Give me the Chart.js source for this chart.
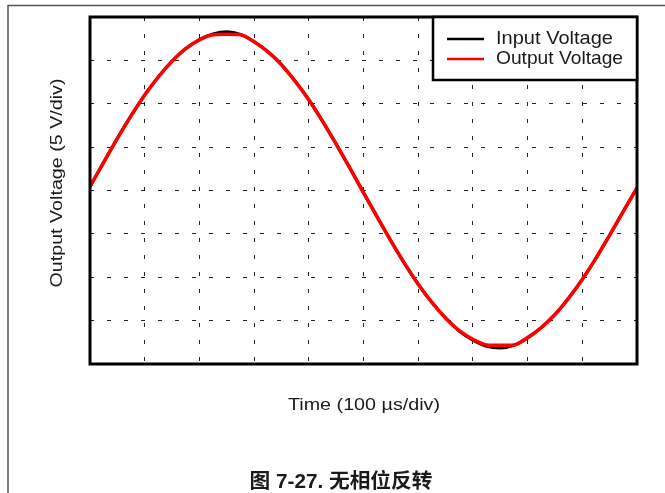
<!DOCTYPE html>
<html>
<head>
<meta charset="utf-8">
<script src="https://cdn.jsdelivr.net/npm/chart.js@4/dist/chart.umd.min.js"></script>
<style>
html,body{margin:0;padding:0;background:#fff;}
#wrap{position:relative;width:665px;height:493px;}
canvas{display:block;}
</style>
</head>
<body>
<div id="wrap"><canvas id="c" width="665" height="493"></canvas></div>
<script>
// Time axis positions (divisions, 100 µs/div)
const timeDiv = [0,0.25,0.5,0.75,1,1.25,1.5,1.75,2,2.25,2.5,2.75,3,3.25,3.5,3.75,4,4.25,4.5,4.75,5,
                 5.25,5.5,5.75,6,6.25,6.5,6.75,7,7.25,7.5,7.75,8,8.25,8.5,8.75,9,9.25,9.5,9.75,10];
// Voltage in divisions (5 V/div)
const inputVoltage = [0.09,0.65,1.20,1.72,2.20,2.62,2.98,3.27,3.48,3.61,3.66,3.60,3.43,3.20,2.90,2.52,2.09,1.60,1.07,0.52,-0.05,
                      -0.61,-1.16,-1.68,-2.16,-2.58,-2.94,-3.24,-3.45,-3.59,-3.63,-3.57,-3.40,-3.16,-2.86,-2.48,-2.05,-1.56,-1.03,-0.48,0.06];
const outputVoltage = [0.09,0.65,1.20,1.72,2.20,2.62,2.98,3.27,3.47,3.59,3.60,3.59,3.43,3.20,2.90,2.52,2.09,1.60,1.07,0.52,-0.05,
                       -0.61,-1.16,-1.68,-2.16,-2.58,-2.94,-3.23,-3.43,-3.56,-3.57,-3.56,-3.39,-3.16,-2.86,-2.48,-2.05,-1.56,-1.03,-0.48,0.06];
const seriesNames = ['Input Voltage','Output Voltage'];
const xTitle = 'Time (100 µs/div)';
const yTitle = 'Output Voltage (5 V/div)';
const caption = '图 7-27. 无相位反转';

function fitText(ctx, text, cx, cy, font, targetW, rot){
  ctx.save();
  ctx.font = font;
  const w = ctx.measureText(text).width;
  ctx.translate(cx, cy);
  if (rot) ctx.rotate(rot);
  ctx.scale(targetW / w, 1);
  ctx.textAlign = 'center';
  ctx.textBaseline = 'middle';
  ctx.fillStyle = '#1a1a1a';
  ctx.fillText(text, 0, 0);
  ctx.restore();
}

const decor = {
  id: 'decor',
  afterDraw(chart){
    const ctx = chart.ctx;
    const a = chart.chartArea;
    ctx.save();
    // page frame
    ctx.strokeStyle = '#555';
    ctx.lineWidth = 1.5;
    ctx.beginPath();
    ctx.moveTo(8, 493); ctx.lineTo(8, 5.5); ctx.lineTo(665, 5.5);
    ctx.stroke();
    // plot border
    ctx.strokeStyle = '#000';
    ctx.lineWidth = 3;
    ctx.strokeRect(a.left, a.top, a.right - a.left, a.bottom - a.top);
    // legend box
    const lx = 433, ly = a.top, lw = a.right - 433, lh = 63;
    ctx.fillStyle = '#fff';
    ctx.fillRect(lx, ly, lw, lh);
    ctx.lineWidth = 2.5;
    ctx.strokeRect(lx, ly, lw, lh);
    const colors = ['#000', '#ff0000'];
    const ys = [39, 59];
    const widths = [117, 127];
    for (let i = 0; i < 2; i++){
      ctx.strokeStyle = colors[i];
      ctx.lineWidth = 2.5;
      ctx.beginPath(); ctx.moveTo(447, ys[i]); ctx.lineTo(484, ys[i]); ctx.stroke();
      fitText(ctx, seriesNames[i], 496 + widths[i]/2, ys[i], '19px "Liberation Sans", Arial, sans-serif', widths[i], 0);
    }
    // axis titles
    fitText(ctx, xTitle, 364, 405, '17px "Liberation Sans", Arial, sans-serif', 152, 0);
    fitText(ctx, yTitle, 57, 183, '17px "Liberation Sans", Arial, sans-serif', 209, -Math.PI/2);
    // caption
    fitText(ctx, caption, 341, 482, 'bold 20px "Liberation Sans", "Noto Sans CJK SC", sans-serif', 183, 0);
    ctx.restore();
  }
};

new Chart(document.getElementById('c'), {
  type: 'line',
  data: {
    labels: timeDiv,
    datasets: [
      { label: seriesNames[0], order: 2, data: timeDiv.map((t,i)=>({x:t, y:inputVoltage[i]})), borderColor: '#000', borderWidth: 3, pointRadius: 0, cubicInterpolationMode: 'monotone', fill: false },
      { label: seriesNames[1], order: 1, data: timeDiv.map((t,i)=>({x:t, y:outputVoltage[i]})), borderColor: '#ff0000', borderWidth: 3.5, pointRadius: 0, cubicInterpolationMode: 'monotone', fill: false }
    ]
  },
  options: {
    responsive: false,
    animation: false,
    devicePixelRatio: 1,
    layout: { padding: { left: 90, top: 17, right: 28, bottom: 129 } },
    plugins: { legend: { display: false }, tooltip: { enabled: false } },
    scales: {
      x: {
        type: 'linear', min: 0, max: 10,
        ticks: { display: false, stepSize: 1 },
        grid: { color: '#222', lineWidth: 1, drawTicks: false },
        border: { display: false, dash: [4, 13] }
      },
      y: {
        type: 'linear', min: -4, max: 4,
        ticks: { display: false, stepSize: 1 },
        grid: { color: '#222', lineWidth: 1, drawTicks: false },
        border: { display: false, dash: [4, 13] }
      }
    }
  },
  plugins: [decor]
});
</script>
</body>
</html>
